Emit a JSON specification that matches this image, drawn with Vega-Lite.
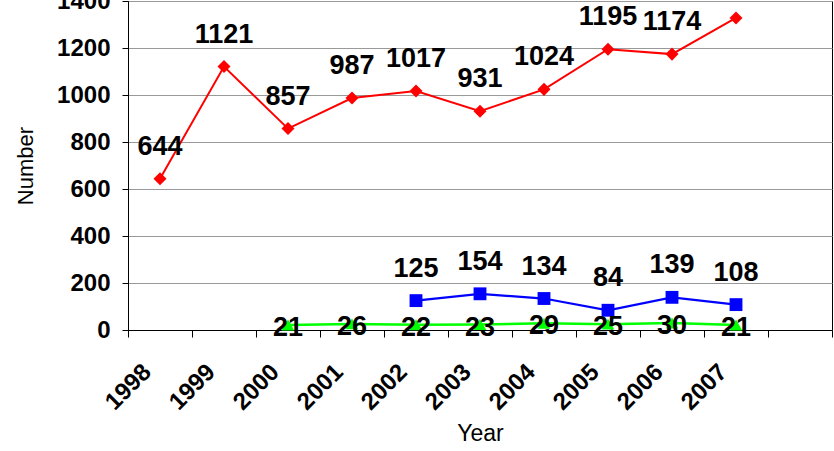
{
  "$schema": "https://vega.github.io/schema/vega-lite/v6.json",
  "autosize": "none",
  "padding": {"left": 128, "top": 1, "right": 2, "bottom": 121},
  "width": 704,
  "height": 329,
  "background": "white",
  "config": {
    "font": "Liberation Sans",
    "view": {"stroke": "black", "strokeWidth": 1}
  },
  "title": {
    "text": "Management Act (outcome)",
    "frame": "group",
    "anchor": "middle",
    "orient": "top",
    "offset": 0,
    "baseline": "alphabetic",
    "dx": -75,
    "dy": 34,
    "fontSize": 25,
    "fontWeight": "bold",
    "font": "Liberation Sans",
    "color": "black"
  },
  "data": {
    "values": [
      {"year": "1998", "series": "A", "value": 644},
      {"year": "1999", "series": "A", "value": 1121},
      {"year": "2000", "series": "A", "value": 857},
      {"year": "2001", "series": "A", "value": 987},
      {"year": "2002", "series": "A", "value": 1017},
      {"year": "2003", "series": "A", "value": 931},
      {"year": "2004", "series": "A", "value": 1024},
      {"year": "2005", "series": "A", "value": 1195},
      {"year": "2006", "series": "A", "value": 1174},
      {"year": "2007", "series": "A", "value": 1328},
      {"year": "2002", "series": "B", "value": 125},
      {"year": "2003", "series": "B", "value": 154},
      {"year": "2004", "series": "B", "value": 134},
      {"year": "2005", "series": "B", "value": 84},
      {"year": "2006", "series": "B", "value": 139},
      {"year": "2007", "series": "B", "value": 108},
      {"year": "2000", "series": "C", "value": 21},
      {"year": "2001", "series": "C", "value": 26},
      {"year": "2002", "series": "C", "value": 22},
      {"year": "2003", "series": "C", "value": 23},
      {"year": "2004", "series": "C", "value": 29},
      {"year": "2005", "series": "C", "value": 25},
      {"year": "2006", "series": "C", "value": 30},
      {"year": "2007", "series": "C", "value": 21}
    ]
  },
  "encoding": {
    "x": {
      "field": "year",
      "type": "ordinal",
      "scale": {
        "type": "band",
        "domain": ["1998", "1999", "2000", "2001", "2002", "2003", "2004", "2005", "2006", "2007", "2008"],
        "paddingInner": 0,
        "paddingOuter": 0
      },
      "axis": {
        "title": "Year",
        "titleFontSize": 23,
        "titleFontWeight": "normal",
        "titleColor": "black",
        "titlePadding": 8,
        "labelExpr": "datum.label == '2008' ? '' : datum.label",
        "labelAngle": -45,
        "labelAlign": "right",
        "labelBaseline": "middle",
        "labelPadding": 31,
        "labelOffset": -13,
        "labelFontSize": 24,
        "labelFontWeight": "bold",
        "labelColor": "black",
        "tickBand": "extent",
        "tickColor": "black",
        "tickSize": 7,
        "domainColor": "black",
        "grid": false
      }
    },
    "y": {
      "field": "value",
      "type": "quantitative",
      "scale": {"domain": [0, 1400], "nice": false},
      "axis": {
        "title": "Number",
        "titleFontSize": 22,
        "titleFontWeight": "normal",
        "titleColor": "black",
        "titlePadding": 19,
        "format": "d",
        "values": [0, 200, 400, 600, 800, 1000, 1200, 1400],
        "labelFontSize": 24,
        "labelFontWeight": "bold",
        "labelColor": "black",
        "labelPadding": 12,
        "tickColor": "black",
        "tickSize": 6,
        "domainColor": "black",
        "grid": true,
        "gridColor": "#999999",
        "gridWidth": 1
      }
    }
  },
  "layer": [
    {
      "mark": {"type": "line"},
      "encoding": {
        "color": {
          "field": "series",
          "type": "nominal",
          "scale": {"domain": ["A", "B", "C"], "range": ["#ff0000", "#0000ff", "#00ff00"]},
          "legend": null
        },
        "strokeWidth": {
          "field": "series",
          "type": "nominal",
          "scale": {"domain": ["A", "B", "C"], "range": [2, 2.5, 4]},
          "legend": null
        }
      }
    },
    {
      "mark": {"type": "point", "filled": true, "opacity": 1},
      "encoding": {
        "color": {
          "field": "series",
          "type": "nominal",
          "scale": {"domain": ["A", "B", "C"], "range": ["#ff0000", "#0000ff", "#00ff00"]},
          "legend": null
        },
        "shape": {
          "field": "series",
          "type": "nominal",
          "scale": {"domain": ["A", "B", "C"], "range": ["diamond", "square", "triangle-up"]},
          "legend": null
        },
        "size": {
          "field": "series",
          "type": "nominal",
          "scale": {"domain": ["A", "B", "C"], "range": [170, 160, 110]},
          "legend": null
        }
      }
    },
    {
      "transform": [{"filter": "datum.series != 'C'"}],
      "mark": {"type": "text", "dy": -32, "baseline": "middle", "align": "center", "fontSize": 27, "fontWeight": "bold", "color": "black"},
      "encoding": {"text": {"field": "value", "type": "quantitative"}}
    },
    {
      "transform": [{"filter": "datum.series == 'C'"}],
      "mark": {"type": "text", "dy": 3, "baseline": "middle", "align": "center", "fontSize": 27, "fontWeight": "bold", "color": "black"},
      "encoding": {"text": {"field": "value", "type": "quantitative"}}
    }
  ]
}
